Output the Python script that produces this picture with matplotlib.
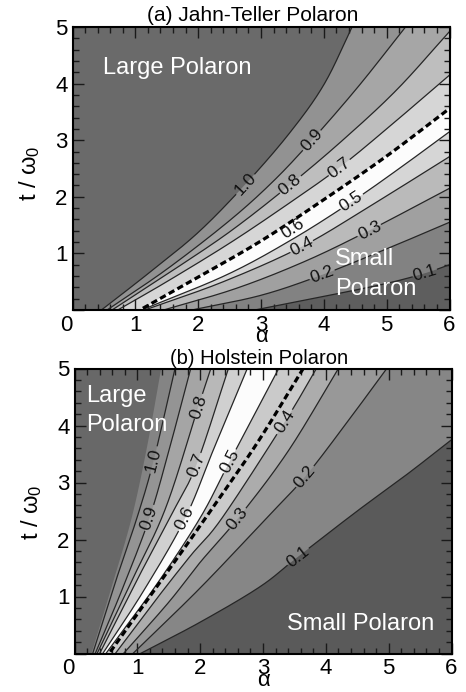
import numpy as np
import matplotlib
matplotlib.use("Agg")
import matplotlib.pyplot as plt
from matplotlib.patches import Polygon
from matplotlib.ticker import MultipleLocator

plt.rcParams['font.family'] = ['Liberation Sans', 'DejaVu Sans']
plt.rcParams['mathtext.fontset'] = 'custom'
plt.rcParams['mathtext.rm'] = 'Liberation Sans'
plt.rcParams['mathtext.it'] = 'Liberation Sans:italic'

# ---------------- data: panel (a) Jahn-Teller polaron ----------------
A_LEVELS = ["1.0", "0.9", "0.8", "0.7", "0.6", "0.5", "0.4", "0.3", "0.2", "0.1"]
A_C10_ALPHA = [0.46, 1.2, 2.0, 2.75, 3.45, 4.0, 4.45]
A_C10_T = [0.0, 0.64, 1.37, 2.22, 3.12, 3.98, 5.0]
A_C09_ALPHA = [0.55, 1.5, 2.5, 3.2, 3.81, 4.55, 5.3]
A_C09_T = [0.0, 0.72, 1.58, 2.28, 3.0, 3.95, 5.0]
A_C08_ALPHA = [0.63, 1.5, 2.5, 3.46, 4.3, 5.16, 6.0]
A_C08_T = [0.0, 0.63, 1.38, 2.21, 3.0, 3.89, 4.92]
A_C07_ALPHA = [0.72, 1.5, 2.5, 3.4, 4.24, 5.0, 6.0]
A_C07_T = [0.0, 0.5, 1.18, 1.85, 2.51, 3.2, 4.15]
A_C06_ALPHA = [1.06, 2.0, 3.0, 4.0, 5.0, 6.0]
A_C06_T = [0.0, 0.59, 1.23, 1.96, 2.73, 3.57]
A_C05_ALPHA = [1.1, 2.45, 3.5, 4.44, 5.2, 6.0]
A_C05_T = [0.0, 0.62, 1.25, 1.91, 2.5, 3.15]
A_C04_ALPHA = [1.15, 2.4, 3.65, 4.8, 6.0]
A_C04_T = [0.0, 0.5, 1.12, 1.88, 2.71]
A_C03_ALPHA = [1.45, 2.6, 3.7, 4.73, 6.0]
A_C03_T = [0.0, 0.38, 0.86, 1.41, 2.15]
A_C02_ALPHA = [1.9, 3.0, 3.97, 5.0, 6.0]
A_C02_T = [0.0, 0.26, 0.62, 1.08, 1.55]
A_C01_ALPHA = [2.9, 4.0, 5.0, 5.61, 6.0]
A_C01_T = [0.0, 0.24, 0.47, 0.65, 0.8]
A_DASH_ALPHA = [1.12, 2.0, 3.0, 4.0, 5.0, 6.0]
A_DASH_T = [0.03, 0.58, 1.22, 1.95, 2.72, 3.56]
A_LABEL_ALPHA = [2.75, 3.81, 3.46, 4.24, 3.51, 4.44, 3.65, 4.73, 3.97, 5.61]
A_LABEL_T = [2.22, 3.0, 2.21, 2.51, 1.44, 1.91, 1.12, 1.41, 0.62, 0.65]

# ---------------- data: panel (b) Holstein polaron ----------------
B_LEVELS = ["1.0", "0.9", "0.8", "0.7", "0.6", "0.5", "0.4", "0.3", "0.2", "0.1"]
B_EDGE_ALPHA = [0.27, 0.6, 0.91, 1.15, 1.38]
B_EDGE_T = [0.0, 1.2, 2.38, 3.6, 5.0]
B_C10_ALPHA = [0.29, 0.65, 1.0, 1.26, 1.6]
B_C10_T = [0.0, 1.25, 2.4, 3.39, 5.0]
B_C09_ALPHA = [0.33, 0.75, 1.19, 1.5, 1.85]
B_C09_T = [0.0, 1.1, 2.37, 3.55, 5.0]
B_C08_ALPHA = [0.36, 0.9, 1.45, 1.97, 2.17]
B_C08_T = [0.0, 1.25, 2.55, 4.33, 5.0]
B_C07_ALPHA = [0.40, 1.0, 1.55, 1.94, 2.45]
B_C07_T = [0.0, 1.3, 2.45, 3.31, 5.0]
B_C06_ALPHA = [0.45, 1.1, 1.76, 2.22, 2.75]
B_C06_T = [0.0, 1.1, 2.37, 3.6, 5.0]
B_C05_ALPHA = [0.50, 1.3, 2.0, 2.47, 3.25]
B_C05_T = [0.0, 1.2, 2.38, 3.37, 5.0]
B_C04_ALPHA = [0.65, 1.3, 1.85, 2.35, 3.35, 3.85]
B_C04_T = [0.0, 0.95, 1.72, 2.38, 4.07, 5.0]
B_C03_ALPHA = [0.78, 1.5, 2.0, 2.6, 3.4, 4.2]
B_C03_T = [0.0, 0.9, 1.6, 2.37, 3.55, 5.0]
B_C02_ALPHA = [0.93, 2.0, 3.06, 3.67, 4.3, 4.97]
B_C02_T = [0.0, 1.15, 2.38, 3.10, 4.0, 5.0]
B_C01_ALPHA = [1.05, 2.0, 2.95, 3.56, 4.5, 5.3, 6.0]
B_C01_T = [0.0, 0.55, 1.17, 1.70, 2.5, 3.15, 3.75]
B_DASH_ALPHA = [0.57, 1.1, 1.6, 2.1, 2.9, 3.64]
B_DASH_T = [0.03, 0.85, 1.62, 2.4, 3.68, 5.0]
B_LABEL_ALPHA = [1.26, 1.19, 1.97, 1.94, 1.76, 2.47, 3.35, 2.6, 3.67, 3.56]
B_LABEL_T = [3.39, 2.37, 4.33, 3.31, 2.37, 3.37, 4.07, 2.37, 3.10, 1.70]

X_TICKS = [0, 1, 2, 3, 4, 5, 6]
X_TICK_LABELS = ["0", "1", "2", "3\nα", "4", "5", "6"]   # x-axis title α sits under the "3"
Y_TICKS = [0, 1, 2, 3, 4, 5]
Y_TICK_LABELS = ["", "1", "2", "3", "4", "5"]

# ---------------- styles ----------------
A_GRAYS = [106, 146, 166, 190, 214, 252, 214, 186, 160, 130, 94]
B_GRAYS = [104, 132, 148, 165, 184, 208, 252, 202, 172, 152, 134, 90]


def gray(v):
    return (v / 255.0, v / 255.0, v / 255.0)


def smooth(al, tt, n=40):
    """Catmull-Rom curve through the read points (for drawing only)."""
    p = np.column_stack([np.asarray(al, float), np.asarray(tt, float)])
    ext = np.vstack([2 * p[0] - p[1], p, 2 * p[-1] - p[-2]])
    out = []
    u = np.linspace(0, 1, n, endpoint=False)[:, None]
    for k in range(1, len(ext) - 2):
        p0, p1, p2, p3 = ext[k - 1], ext[k], ext[k + 1], ext[k + 2]
        seg = 0.5 * (2 * p1 + (-p0 + p2) * u + (2 * p0 - 5 * p1 + 4 * p2 - p3) * u ** 2
                     + (-p0 + 3 * p1 - 3 * p2 + p3) * u ** 3)
        out.append(seg)
    out.append(p[-1][None, :])
    c = np.vstack(out)
    return c[:, 0], c[:, 1]


fig = plt.figure(figsize=(4.66, 6.92), dpi=100)
fig.patch.set_facecolor('white')
axA = fig.add_axes([72.5 / 466, 1 - 310 / 692, 377 / 466, 283 / 692])
axB = fig.add_axes([74.5 / 466, 1 - 653.5 / 692, 377 / 466, 285 / 692])


def panel(ax, curves, grays, label_ids, levels, lab_al, lab_t, dash, skip_line):
    ax.set_xlim(0, 6)
    ax.set_ylim(0, 5)
    ax.set_facecolor(gray(grays[0]))
    for (al, tt), g in zip(curves, grays[1:]):
        x, y = smooth(al, tt)
        xs = list(x) + [6.0, 6.0]
        ys = list(y) + [tt[-1], 0.0]
        ax.add_patch(Polygon(np.column_stack([xs, ys]), closed=True,
                             fc=gray(g), ec='none', zorder=1))
    trans = ax.transData
    lab_disp = trans.transform(np.column_stack([lab_al, lab_t]))
    for (al, tt), li in zip(curves, label_ids):
        if li < 0:
            continue
        x, y = smooth(al, tt)
        pts = trans.transform(np.column_stack([x, y]))
        d = np.hypot(pts[:, 0] - lab_disp[li, 0], pts[:, 1] - lab_disp[li, 1])
        i = int(np.argmin(d))
        i0, i1 = max(i - 4, 0), min(i + 4, len(x) - 1)
        ang = np.degrees(np.arctan2(pts[i1, 1] - pts[i0, 1], pts[i1, 0] - pts[i0, 0]))
        if ang > 90:
            ang -= 180
        if ang < -90:
            ang += 180
        ax.text(lab_al[li], lab_t[li], levels[li], rotation=ang,
                rotation_mode='anchor', ha='center', va='center',
                fontsize=12.5, color='#111111', zorder=6)
        if levels[li] in skip_line:
            continue
        xm = x.copy()
        ym = y.copy()
        mask = d < 12.5
        xm[mask] = np.nan
        ym[mask] = np.nan
        ax.plot(xm, ym, color='#262626', lw=0.9, zorder=3, solid_capstyle='butt')
    dx, dy = smooth(dash[0], dash[1])
    ax.plot(dx, dy, color='black', lw=2.3, linestyle=(0, (2.0, 1.1)), zorder=4,
            dash_capstyle='butt')

    ax.set_xticks(X_TICKS)
    ax.set_xticklabels(X_TICK_LABELS)
    for lab in ax.get_xticklabels():
        lab.set_linespacing(0.4)
    ax.get_xticklabels()[0].set_ha('right')
    ax.set_yticks(Y_TICKS)
    ax.set_yticklabels(Y_TICK_LABELS)
    ax.xaxis.set_minor_locator(MultipleLocator(0.2))
    ax.yaxis.set_minor_locator(MultipleLocator(0.2))
    ax.tick_params(which='both', direction='in', top=True, right=True,
                   color='#1a1a1a', width=1.0, zorder=5)
    ax.tick_params(which='major', length=8, labelsize=16)
    ax.tick_params(axis='x', which='major', pad=3.5)
    ax.tick_params(axis='y', which='major', pad=3.5)
    ax.tick_params(which='minor', length=4)
    for sp in ax.spines.values():
        sp.set_linewidth(1.5)
        sp.set_color('black')
        sp.set_zorder(7)


curvesA = [(A_C10_ALPHA, A_C10_T), (A_C09_ALPHA, A_C09_T), (A_C08_ALPHA, A_C08_T),
           (A_C07_ALPHA, A_C07_T), (A_C06_ALPHA, A_C06_T), (A_C05_ALPHA, A_C05_T),
           (A_C04_ALPHA, A_C04_T), (A_C03_ALPHA, A_C03_T), (A_C02_ALPHA, A_C02_T),
           (A_C01_ALPHA, A_C01_T)]
panel(axA, curvesA, A_GRAYS, list(range(10)), A_LEVELS, A_LABEL_ALPHA, A_LABEL_T,
      (A_DASH_ALPHA, A_DASH_T), skip_line={"0.6"})

curvesB = [(B_EDGE_ALPHA, B_EDGE_T),
           (B_C10_ALPHA, B_C10_T), (B_C09_ALPHA, B_C09_T), (B_C08_ALPHA, B_C08_T),
           (B_C07_ALPHA, B_C07_T), (B_C06_ALPHA, B_C06_T), (B_C05_ALPHA, B_C05_T),
           (B_C04_ALPHA, B_C04_T), (B_C03_ALPHA, B_C03_T), (B_C02_ALPHA, B_C02_T),
           (B_C01_ALPHA, B_C01_T)]
panel(axB, curvesB, B_GRAYS, [-1] + list(range(10)), B_LEVELS, B_LABEL_ALPHA, B_LABEL_T,
      (B_DASH_ALPHA, B_DASH_T), skip_line=set())

# region annotations
tkw = dict(color='white', fontsize=17, zorder=8)
axA.text(0.485, 4.17, 'Large Polaron', ha='left', va='baseline', **tkw)
axA.text(4.18, 0.795, 'Small', ha='left', va='baseline', **tkw)
axA.text(4.18, 0.265, 'Polaron', ha='left', va='baseline', **tkw)
axB.text(0.19, 4.42, 'Large', ha='left', va='baseline', **tkw)
axB.text(0.19, 3.91, 'Polaron', ha='left', va='baseline', **tkw)
axB.text(3.38, 0.41, 'Small Polaron', ha='left', va='baseline', **tkw)

# y-axis titles
ylab = r'$\mathregular{t\ /\ \omega_0}$'
for ax, yl_y in [(axA, 0.484), (axB, 0.497)]:
    ax.text(-0.113, yl_y, ylab, transform=ax.transAxes, ha='center', va='center',
            rotation=90, fontsize=17)

fig.text(253 / 466, 1 - 21 / 692, '(a) Jahn-Teller Polaron', ha='center',
         va='baseline', fontsize=15)
fig.text(259.5 / 466, 1 - 364.5 / 692, '(b) Holstein Polaron', ha='center',
         va='baseline', fontsize=14.5)

fig.savefig('out.png', dpi=100)
